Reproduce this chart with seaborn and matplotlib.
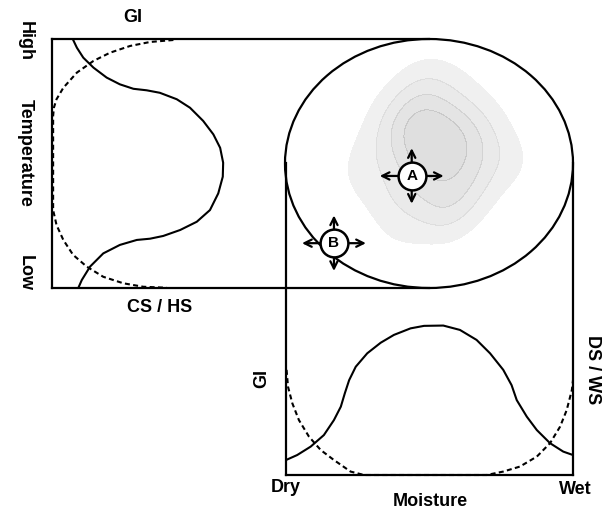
import matplotlib
matplotlib.use("Agg")
import matplotlib.pyplot as plt
import seaborn as sns
import pandas as pd
from matplotlib.patches import Ellipse
from matplotlib.transforms import offset_copy

# ---- data (normalised 0-1 axis units) ----
# top-left panel: x = stress level, y = temperature (Low -> High)
gi_temp = [1.0, 0.965, 0.925, 0.885, 0.845, 0.818, 0.800, 0.794, 0.784,
           0.758, 0.724, 0.671, 0.617, 0.563, 0.503, 0.447, 0.380, 0.313,
           0.266, 0.233, 0.209, 0.198, 0.193, 0.173, 0.139, 0.086, 0.032,
           0.001]
gi_level_t = [0.055, 0.066, 0.083, 0.110, 0.145, 0.180, 0.216, 0.251, 0.286,
              0.331, 0.366, 0.401, 0.428, 0.446, 0.454, 0.453, 0.441, 0.419,
              0.384, 0.340, 0.295, 0.260, 0.225, 0.180, 0.136, 0.101, 0.079,
              0.070]
cshs_temp = [0.996, 0.988, 0.972, 0.945, 0.912, 0.865, 0.804, 0.758, 0.724,
             0.691, 0.313, 0.253, 0.193, 0.133, 0.086, 0.045, 0.019, 0.005,
             0.001]
cshs_level = [0.322, 0.260, 0.207, 0.154, 0.110, 0.066, 0.030, 0.012, 0.005,
              0.003, 0.003, 0.012, 0.030, 0.056, 0.092, 0.136, 0.189, 0.242,
              0.304]

# bottom panel: x = moisture (Dry -> Wet), y = stress level
gi_moist = [0.0, 0.039, 0.086, 0.132, 0.167, 0.191, 0.205, 0.220, 0.243,
            0.283, 0.330, 0.376, 0.434, 0.481, 0.548, 0.606, 0.664, 0.711,
            0.757, 0.786, 0.804, 0.839, 0.874, 0.920, 0.966, 1.0]
gi_level_b = [0.048, 0.064, 0.091, 0.128, 0.176, 0.219, 0.262, 0.304, 0.347,
              0.390, 0.424, 0.449, 0.470, 0.478, 0.479, 0.465, 0.433, 0.390,
              0.337, 0.288, 0.240, 0.187, 0.144, 0.102, 0.075, 0.064]
dsws_moist = [0.002, 0.007, 0.022, 0.045, 0.080, 0.121, 0.167, 0.225, 0.272,
              0.699, 0.757, 0.815, 0.874, 0.920, 0.955, 0.978, 0.996, 1.0]
dsws_level = [0.337, 0.283, 0.230, 0.176, 0.123, 0.080, 0.048, 0.011, 0.0,
              0.0, 0.011, 0.027, 0.059, 0.102, 0.155, 0.208, 0.272, 0.304]

# climate space (moisture x temperature): cloud of species records
cloud_moist = [0.40, 0.45, 0.50, 0.55, 0.60, 0.65, 0.48, 0.58, 0.42, 0.52,
               0.62, 0.30, 0.72, 0.50, 0.40, 0.55, 0.36, 0.70, 0.53, 0.47,
               0.25, 0.80, 0.45, 0.60, 0.35, 0.66, 0.50, 0.43, 0.57, 0.62]
cloud_temp = [0.62, 0.68, 0.72, 0.64, 0.60, 0.52, 0.45, 0.48, 0.40, 0.35,
              0.42, 0.55, 0.55, 0.85, 0.22, 0.28, 0.70, 0.68, 0.56, 0.52,
              0.45, 0.50, 0.78, 0.80, 0.35, 0.38, 0.60, 0.58, 0.30, 0.65]

site_names = ["A", "B"]
site_moist = [0.44, 0.17]
site_temp = [0.45, 0.18]

sns.set_style("white")
plt.rcParams["font.family"] = ["Liberation Sans", "DejaVu Sans"]
plt.rcParams["font.weight"] = "bold"
plt.rcParams["text.color"] = "black"

W, H = 604, 511
fig = plt.figure(figsize=(W / 100, H / 100), dpi=100)

def rect(x0, y0, x1, y1):
    return [x0 / W, 1 - y1 / H, (x1 - x0) / W, (y1 - y0) / H]

ax_b = fig.add_axes(rect(286, 163, 573, 475))
ax_t = fig.add_axes(rect(52, 39, 429, 288))
ax_e = fig.add_axes(rect(285, 39, 573, 288))

# climate space ellipse with record cloud
cloud = pd.DataFrame({"moist": cloud_moist, "temp": cloud_temp})
sns.kdeplot(data=cloud, x="moist", y="temp", fill=True, color="0.45",
            levels=5, thresh=0.15, bw_adjust=1.1, alpha=0.2, ax=ax_e)

for ax in (ax_t, ax_b, ax_e):
    ax.set_xlim(0, 1)
    ax.set_ylim(0, 1)
    ax.set_xticks([])
    ax.set_yticks([])
    ax.set_xlabel("")
    ax.set_ylabel("")
    ax.patch.set_alpha(0)
    for s in ax.spines.values():
        s.set_linewidth(1.6)
        s.set_color("black")

ax_t.spines["right"].set_visible(False)
ax_b.spines["top"].set_visible(False)
for s in ax_e.spines.values():
    s.set_visible(False)

# top-left panel curves
lw = 1.5
dash = (0, (2.4, 1.6))
sns.lineplot(x=gi_level_t, y=gi_temp, sort=False, estimator=None, orient="y",
             color="black", lw=lw, ax=ax_t)
sns.lineplot(x=cshs_level, y=cshs_temp, sort=False, estimator=None, orient="y",
             color="black", lw=lw, ls=dash, ax=ax_t)

# bottom panel curves
sns.lineplot(x=gi_moist, y=gi_level_b, sort=False, estimator=None,
             color="black", lw=lw, ax=ax_b)
sns.lineplot(x=dsws_moist, y=dsws_level, sort=False, estimator=None,
             color="black", lw=lw, ls=dash, ax=ax_b)
for ax in (ax_t, ax_b):
    for ln in ax.lines:
        ln.set_clip_on(False)
        ln.set_solid_joinstyle("round")

ax_e.add_patch(Ellipse((0.5, 0.5), 1, 1, transform=ax_e.transAxes,
                       fill=False, lw=1.6, ec="black", clip_on=False))

# sites with arrows
ax_e.scatter(site_moist, site_temp, s=400, facecolor="white",
             edgecolor="black", linewidth=1.8, zorder=5, clip_on=False)
for name, mx, my in zip(site_names, site_moist, site_temp):
    ax_e.text(mx, my, name, ha="center", va="center", fontsize=11,
              fontweight="bold", zorder=6)
    for dx, dy in [(23, 0), (-23, 0), (0, 20), (0, -20)]:
        tip = offset_copy(ax_e.transData, fig=fig, x=dx, y=dy, units="points")
        ax_e.annotate("", xy=(mx, my), xycoords=tip, xytext=(mx, my),
                      textcoords="data", zorder=4,
                      arrowprops=dict(arrowstyle="->", lw=1.6, color="black",
                                      shrinkA=9, shrinkB=0,
                                      mutation_scale=13))

# labels
fs = 13
def ftext(px, py, s, **kw):
    fig.text(px / W, 1 - py / H, s, ha="center", va="center",
             fontsize=fs, fontweight="bold", **kw)

ftext(133, 17, "GI")
ftext(25, 41, "High", rotation=-90)
ftext(25, 153, "Temperature", rotation=-90)
ftext(25, 273, "Low", rotation=-90)
ftext(160, 307, "CS / HS")
ftext(262, 378, "GI", rotation=90)
ftext(592, 370, "DS / WS", rotation=-90)
ftext(286, 487, "Dry")
ftext(575, 489, "Wet")
ftext(430, 501, "Moisture")

fig.savefig("out.png", dpi=100)
